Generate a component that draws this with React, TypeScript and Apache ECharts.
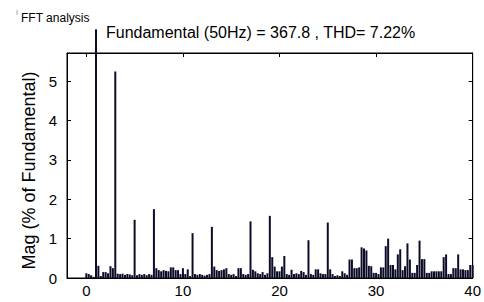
import React, { useEffect, useRef } from "react";
import * as echarts from "echarts";

// FFT bin resolution in harmonic orders (12.5 Hz at 50 Hz fundamental)
const binStep = 0.25;

// Magnitudes (% of fundamental), bins from order 0 upward in steps of binStep
const magH0to10 = [
  0.12, 0.1, 0.07, 0.03,
  6.32, 0.31, 0.05, 0.15,
  0.15, 0.12, 0.3, 0.25,
  5.25, 0.11, 0.1, 0.11,
  0.08, 0.1, 0.09, 0.07,
  1.48, 0.07, 0.1, 0.08,
  0.1, 0.07, 0.1, 0.08,
  1.75, 0.25, 0.2, 0.17,
  0.2, 0.18, 0.17, 0.27,
  0.27, 0.2, 0.2, 0.1,
];
const magH10to20 = [
  0.25, 0.1, 0.22, 0.05,
  1.14, 0.1, 0.08, 0.1,
  0.08, 0.06, 0.08, 0.1,
  1.3, 0.29, 0.2, 0.18,
  0.2, 0.22, 0.25, 0.1,
  0.08, 0.1, 0.05, 0.25,
  0.25, 0.1, 0.08, 0.1,
  1.44, 0.21, 0.17, 0.12,
  0.1, 0.15, 0.08, 0.12,
  1.58, 0.53, 0.29, 0.17,
];
const magH20to30 = [
  0.17, 0.29, 0.56, 0.1,
  0.08, 0.21, 0.1, 0.12,
  0.1, 0.18, 0.15, 0.08,
  0.96, 0.1, 0.08, 0.22,
  0.22, 0.12, 0.1, 0.1,
  1.41, 0.22, 0.1, 0.05,
  0.07, 0.05, 0.17, 0.12,
  0.08, 0.47, 0.47, 0.25,
  0.25, 0.27, 0.78, 0.75,
  0.7, 0.31, 0.3, 0.13,
];
const magH30to40 = [
  0.13, 0.1, 0.27, 0.27,
  0.81, 1.0, 0.33, 0.33,
  0.22, 0.6, 0.73, 0.2,
  0.3, 0.88, 0.47, 0.13,
  0.13, 0.33, 0.95, 0.48,
  0.48, 0.13, 0.13, 0.17,
  0.17, 0.17, 0.17, 0.17,
  0.53, 0.6, 0.1, 0.1,
  0.25, 0.25, 0.6, 0.22,
  0.22, 0.2, 0.2, 0.33,
  0.33,
];

const xTicks = [0, 10, 20, 30, 40];
const titleText = "Fundamental (50Hz) = 367.8 , THD= 7.22%";
const windowText = "FFT analysis";
const yName = "Mag (% of Fundamental)";

export default function App() {
  const ref = useRef<HTMLDivElement>(null);
  useEffect(() => {
    if (!ref.current) return;
    const chart = echarts.init(ref.current, null, { renderer: "svg" });
    const mags = [...magH0to10, ...magH10to20, ...magH20to30, ...magH30to40];
    const data = mags.map((v, i) => [i * binStep, v]);
    const font = "Liberation Sans, Arial, sans-serif";
    const tickStyle = { inside: true, length: 4, lineStyle: { color: "#000" } };
    const lineStyle = { show: true, onZero: false, lineStyle: { color: "#000" } };
    chart.setOption({
      animation: false,
      backgroundColor: "#fff",
      grid: {
        left: 67,
        right: 9,
        top: 53,
        bottom: 24,
        show: true,
        borderColor: "#000",
        borderWidth: 1,
        backgroundColor: "#fff",
      },
      xAxis: [
        {
          type: "value",
          min: -2,
          max: 40,
          axisLine: lineStyle,
          axisTick: { ...tickStyle, customValues: xTicks },
          axisLabel: {
            customValues: xTicks,
            color: "#000",
            fontSize: 15,
            fontFamily: font,
            margin: 5,
          },
          splitLine: { show: false },
        },
        {
          type: "value",
          position: "top",
          min: -2,
          max: 40,
          axisLine: lineStyle,
          axisTick: { ...tickStyle, customValues: xTicks },
          axisLabel: { show: false },
          splitLine: { show: false },
        },
      ],
      yAxis: [
        {
          type: "value",
          min: 0,
          max: 5.72,
          interval: 1,
          axisLine: lineStyle,
          axisTick: tickStyle,
          axisLabel: {
            color: "#000",
            fontSize: 15,
            fontFamily: font,
            margin: 10,
            showMaxLabel: false,
          },
          splitLine: { show: false },
          name: yName,
          nameLocation: "middle",
          nameGap: 26,
          nameTextStyle: {
            color: "#000",
            fontSize: 18,
            fontFamily: font,
            padding: [0, 10, 0, 0],
          },
        },
        {
          type: "value",
          position: "right",
          min: 0,
          max: 5.72,
          interval: 1,
          axisLine: lineStyle,
          axisTick: tickStyle,
          axisLabel: { show: false },
          splitLine: { show: false },
        },
      ],
      series: [
        {
          type: "bar",
          xAxisIndex: 0,
          yAxisIndex: 0,
          data,
          barWidth: 2,
          clip: false,
          itemStyle: { color: "#0c0c28" },
        },
      ],
      graphic: [
        {
          type: "line",
          shape: { x1: 17, y1: 10, x2: 17, y2: 15 },
          style: { stroke: "#aaa", lineWidth: 1 },
        },
        {
          type: "text",
          x: 21,
          y: 18,
          style: {
            text: windowText,
            fontSize: 12,
            fontFamily: font,
            fill: "#000",
            verticalAlign: "middle",
          },
        },
        {
          type: "text",
          x: 106,
          y: 32,
          style: {
            text: titleText,
            fontSize: 16,
            fontFamily: font,
            fill: "#000",
            verticalAlign: "middle",
          },
        },
      ],
    });
    return () => chart.dispose();
  }, []);
  return (
    <div
      ref={ref}
      style={{ position: "absolute", left: 0, top: 0, width: 484, height: 302 }}
    />
  );
}
